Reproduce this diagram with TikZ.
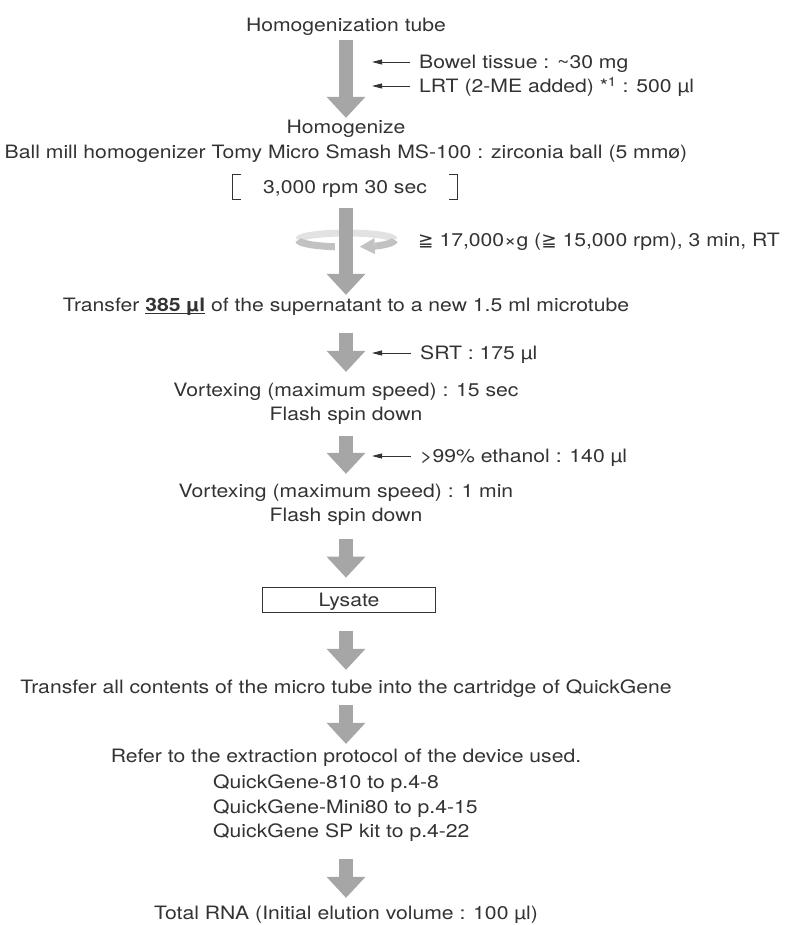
\documentclass[tikz,border=0pt]{standalone}
\usepackage{fontspec}
\setmainfont{TeX Gyre Heros}[FakeStretch=1.15]
\newfontfamily\signfont{DejaVu Sans}
\usetikzlibrary{arrows.meta,calc}
\definecolor{ink}{HTML}{333333}
\definecolor{flowgray}{HTML}{A6A6A6}
\definecolor{ringback}{HTML}{E2E2E2}
\definecolor{ringfront}{HTML}{C2C2C2}
\tikzset{
  txt/.style={inner sep=0pt, text height=13.2pt, text depth=0pt, text=ink},
  note/.style={txt, anchor=west},
  flow/.style={draw=flowgray, line width=14pt, -{Triangle[width=39pt,length=21pt,line width=0pt]}},
  feed/.style={draw=ink, line width=0.9pt, -{Triangle[width=5pt,length=10pt]}, shorten <=9pt, shorten >=26pt},
  bracket/.style={draw=ink, line width=0.8pt},
  box/.style={txt, draw=ink, line width=0.8pt, minimum width=173pt, minimum height=25pt},
  ring/.style={line width=7pt},
}

\begin{document}
\begin{tikzpicture}[x=1pt, y=-1pt, font=\fontsize{18.4}{22}\selectfont]
\useasboundingbox (0,0) rectangle (790,925);
\coordinate (axis) at (346,0);
\coordinate (hub) at (346.5,240);

% steps down the middle
\node[txt] (tube) at (346,25) {Homogenization tube};
\node[note] (bowel) at (419,62) {Bowel tissue : \textasciitilde30 mg};
\node[note] (lrt) at (419,86) {LRT (2-ME added) *\textsuperscript{1} : 500 µl};
\node[txt] (homog) at (346,127) {Homogenize};
\node[txt] (mill) at (346,152) {Ball mill homogenizer Tomy Micro Smash MS-100 : zirconia ball (5 mmø)};
\node[txt, minimum width=225pt, minimum height=24pt] (rpm) at (345,187) {3,000 rpm 30 sec};
\node[note] (spin) at (418,240) {{\signfont ≧} 17,000×g ({\signfont ≧} 15,000 rpm), 3 min, RT};
\node[txt] (moved) at (346,305) {Transfer \underline{\smash{\textbf{385 µl}}} of the supernatant to a new 1.5 ml microtube};
\node[note] (srt) at (420,353) {SRT : 175 µl};
\node[txt] (vortex1) at (346,390) {Vortexing (maximum speed) : 15 sec};
\node[txt] (flash1) at (346,414) {Flash spin down};
\node[note] (etoh) at (420,456) {>99\% ethanol : 140 µl};
\node[txt] (vortex2) at (346,491) {Vortexing (maximum speed) : 1 min};
\node[txt] (flash2) at (346,515) {Flash spin down};
\node[box] (lysate) at (349,600) {Lysate};
\node[txt] (loadall) at (346,687) {Transfer all contents of the micro tube into the cartridge of QuickGene};
\node[txt] (refer) at (346,756) {Refer to the extraction protocol of the device used.};
\node[note] (qg810) at (213,782) {QuickGene-810 to p.4-8};
\node[note] (mini80) at (213,807) {QuickGene-Mini80 to p.4-15};
\node[note] (spkit) at (213,831) {QuickGene SP kit to p.4-22};
\node[txt] (rna) at (346,913) {Total RNA (Initial elution volume : 100 µl)};

% brackets round the speed
\draw[bracket] ([xshift=9pt]rpm.north west) -- (rpm.north west) -- (rpm.south west) -- ([xshift=9pt]rpm.south west);
\draw[bracket] ([xshift=-9pt]rpm.north east) -- (rpm.north east) -- (rpm.south east) -- ([xshift=-9pt]rpm.south east);

% centrifuge ring
\draw[ring, ringback] (hub) ++(48pt,0) arc[start angle=0, end angle=180, x radius=48pt, y radius=7pt];
\draw[ring, ringfront] (hub) ++(-48pt,0) arc[start angle=180, end angle=256, x radius=48pt, y radius=7pt];
\draw[ring, ringfront, -{Triangle[width=16pt,length=15pt,line width=0pt]}] (hub) ++(48pt,0) arc[start angle=360, end angle=286, x radius=48pt, y radius=7pt];

% big arrows
\draw[flow, shorten <=8.4pt, shorten >=2.4pt] (tube.south -| axis) -- (homog.north -| axis);
\draw[flow, shorten <=9pt, shorten >=3.4pt] (rpm.south -| axis) -- (moved.north -| axis);
\draw[flow, shorten <=21.4pt, shorten >=11.4pt] (moved.south -| axis) -- (vortex1.north -| axis);
\draw[flow, shorten <=15.4pt, shorten >=10.4pt] (flash1.south -| axis) -- (vortex2.north -| axis);
\draw[flow, shorten <=17.4pt, shorten >=9.5pt] (flash2.south -| axis) -- (lysate.north -| axis);
\draw[flow, shorten <=18.5pt, shorten >=10.4pt] (lysate.south -| axis) -- (loadall.north -| axis);
\draw[flow, shorten <=11.4pt, shorten >=5.4pt] (loadall.south -| axis) -- (refer.north -| axis);
\draw[flow, shorten <=21.4pt, shorten >=8.4pt] (spkit.south -| axis) -- (rna.north -| axis);

% added reagents
\draw[feed] (bowel.west) -- (bowel.west -| axis);
\draw[feed] (lrt.west) -- (lrt.west -| axis);
\draw[feed] (srt.west) -- (srt.west -| axis);
\draw[feed] (etoh.west) -- (etoh.west -| axis);
\end{tikzpicture}
\end{document}
